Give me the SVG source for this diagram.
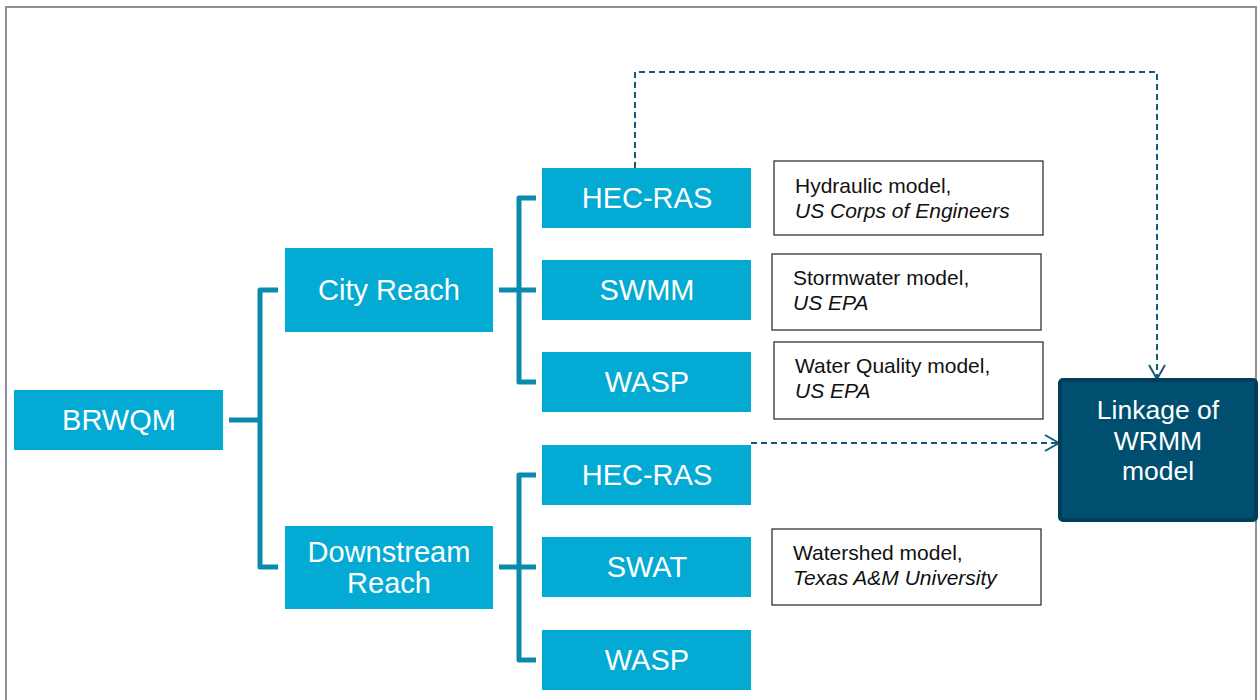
<svg xmlns="http://www.w3.org/2000/svg" width="1258" height="700" viewBox="0 0 1258 700">
<defs>
<style>
.node rect{fill:#03aad3;}
.node text{fill:#fff;font-family:"Liberation Sans",Arial,sans-serif;font-size:29px;text-anchor:middle;}
.note rect{fill:#fff;stroke:#333;stroke-width:1.3;}
.note text{fill:#111;font-family:"Liberation Sans",Arial,sans-serif;font-size:21px;}
.note .it{font-style:italic;}
.tree{fill:none;stroke:#0a8aac;stroke-width:5;stroke-linejoin:round;}
.dash{fill:none;stroke:#15597a;stroke-width:2;stroke-dasharray:6 4;}
</style>
<marker id="chev" viewBox="0 0 16 18" refX="15" refY="9" markerWidth="16" markerHeight="18" markerUnits="userSpaceOnUse" orient="auto">
<path d="M1,1 L15,9 L1,17" fill="none" stroke="#15597a" stroke-width="2"/>
</marker>
</defs>
<rect x="0" y="0" width="1258" height="700" fill="#fff"/>
<rect x="6" y="7" width="1250" height="720" fill="none" stroke="#8c9196" stroke-width="2"/>

<g id="connectors">
<path class="tree" d="M229,420 H260 M278,290 H260 V567 H278"/>
<path class="tree" d="M499,290 H536 M536,198 H519 V382 H536"/>
<path class="tree" d="M499,567 H536 M536,475 H519 V660 H536"/>
<path class="dash" d="M635,168 V72 H1157 V379" marker-end="url(#chev)"/>
<path class="dash" d="M751,443 H1059" marker-end="url(#chev)"/>
</g>

<g id="brwqm" class="node"><rect x="14" y="390" width="209" height="60"/><text x="119" y="430">BRWQM</text></g>
<g id="city-reach" class="node"><rect x="285" y="248" width="208" height="84"/><text x="389" y="300">City Reach</text></g>
<g id="downstream-reach" class="node"><rect x="285" y="526" width="208" height="83"/><text x="389" y="562">Downstream</text><text x="389" y="593">Reach</text></g>
<g id="hecras-1" class="node"><rect x="542" y="168" width="209" height="60"/><text x="647" y="208">HEC-RAS</text></g>
<g id="swmm" class="node"><rect x="542" y="260" width="209" height="60"/><text x="647" y="300">SWMM</text></g>
<g id="wasp-1" class="node"><rect x="542" y="352" width="209" height="60"/><text x="647" y="392">WASP</text></g>
<g id="hecras-2" class="node"><rect x="542" y="445" width="209" height="60"/><text x="647" y="485">HEC-RAS</text></g>
<g id="swat" class="node"><rect x="542" y="537" width="209" height="60"/><text x="647" y="577">SWAT</text></g>
<g id="wasp-2" class="node"><rect x="542" y="630" width="209" height="60"/><text x="647" y="670">WASP</text></g>

<g id="note-hecras" class="note"><rect x="774" y="161" width="269" height="74"/><text x="795" y="193">Hydraulic model,</text><text class="it" x="795" y="218">US Corps of Engineers</text></g>
<g id="note-swmm" class="note"><rect x="772" y="254" width="269" height="76"/><text x="793" y="285">Stormwater model,</text><text class="it" x="793" y="310">US EPA</text></g>
<g id="note-wasp" class="note"><rect x="774" y="342" width="269" height="77"/><text x="795" y="373">Water Quality model,</text><text class="it" x="795" y="398">US EPA</text></g>
<g id="note-swat" class="note"><rect x="772" y="529" width="269" height="76"/><text x="793" y="560">Watershed model,</text><text class="it" x="793" y="585">Texas A&amp;M University</text></g>

<g id="linkage"><rect x="1060" y="380" width="196" height="140" rx="3" fill="#004f70" stroke="#003e59" stroke-width="4"/>
<g font-family="&quot;Liberation Sans&quot;,Arial,sans-serif" font-size="26.5" fill="#fff" text-anchor="middle"><text x="1158" y="419">Linkage of</text><text x="1158" y="450">WRMM</text><text x="1158" y="480">model</text></g></g>
</svg>
